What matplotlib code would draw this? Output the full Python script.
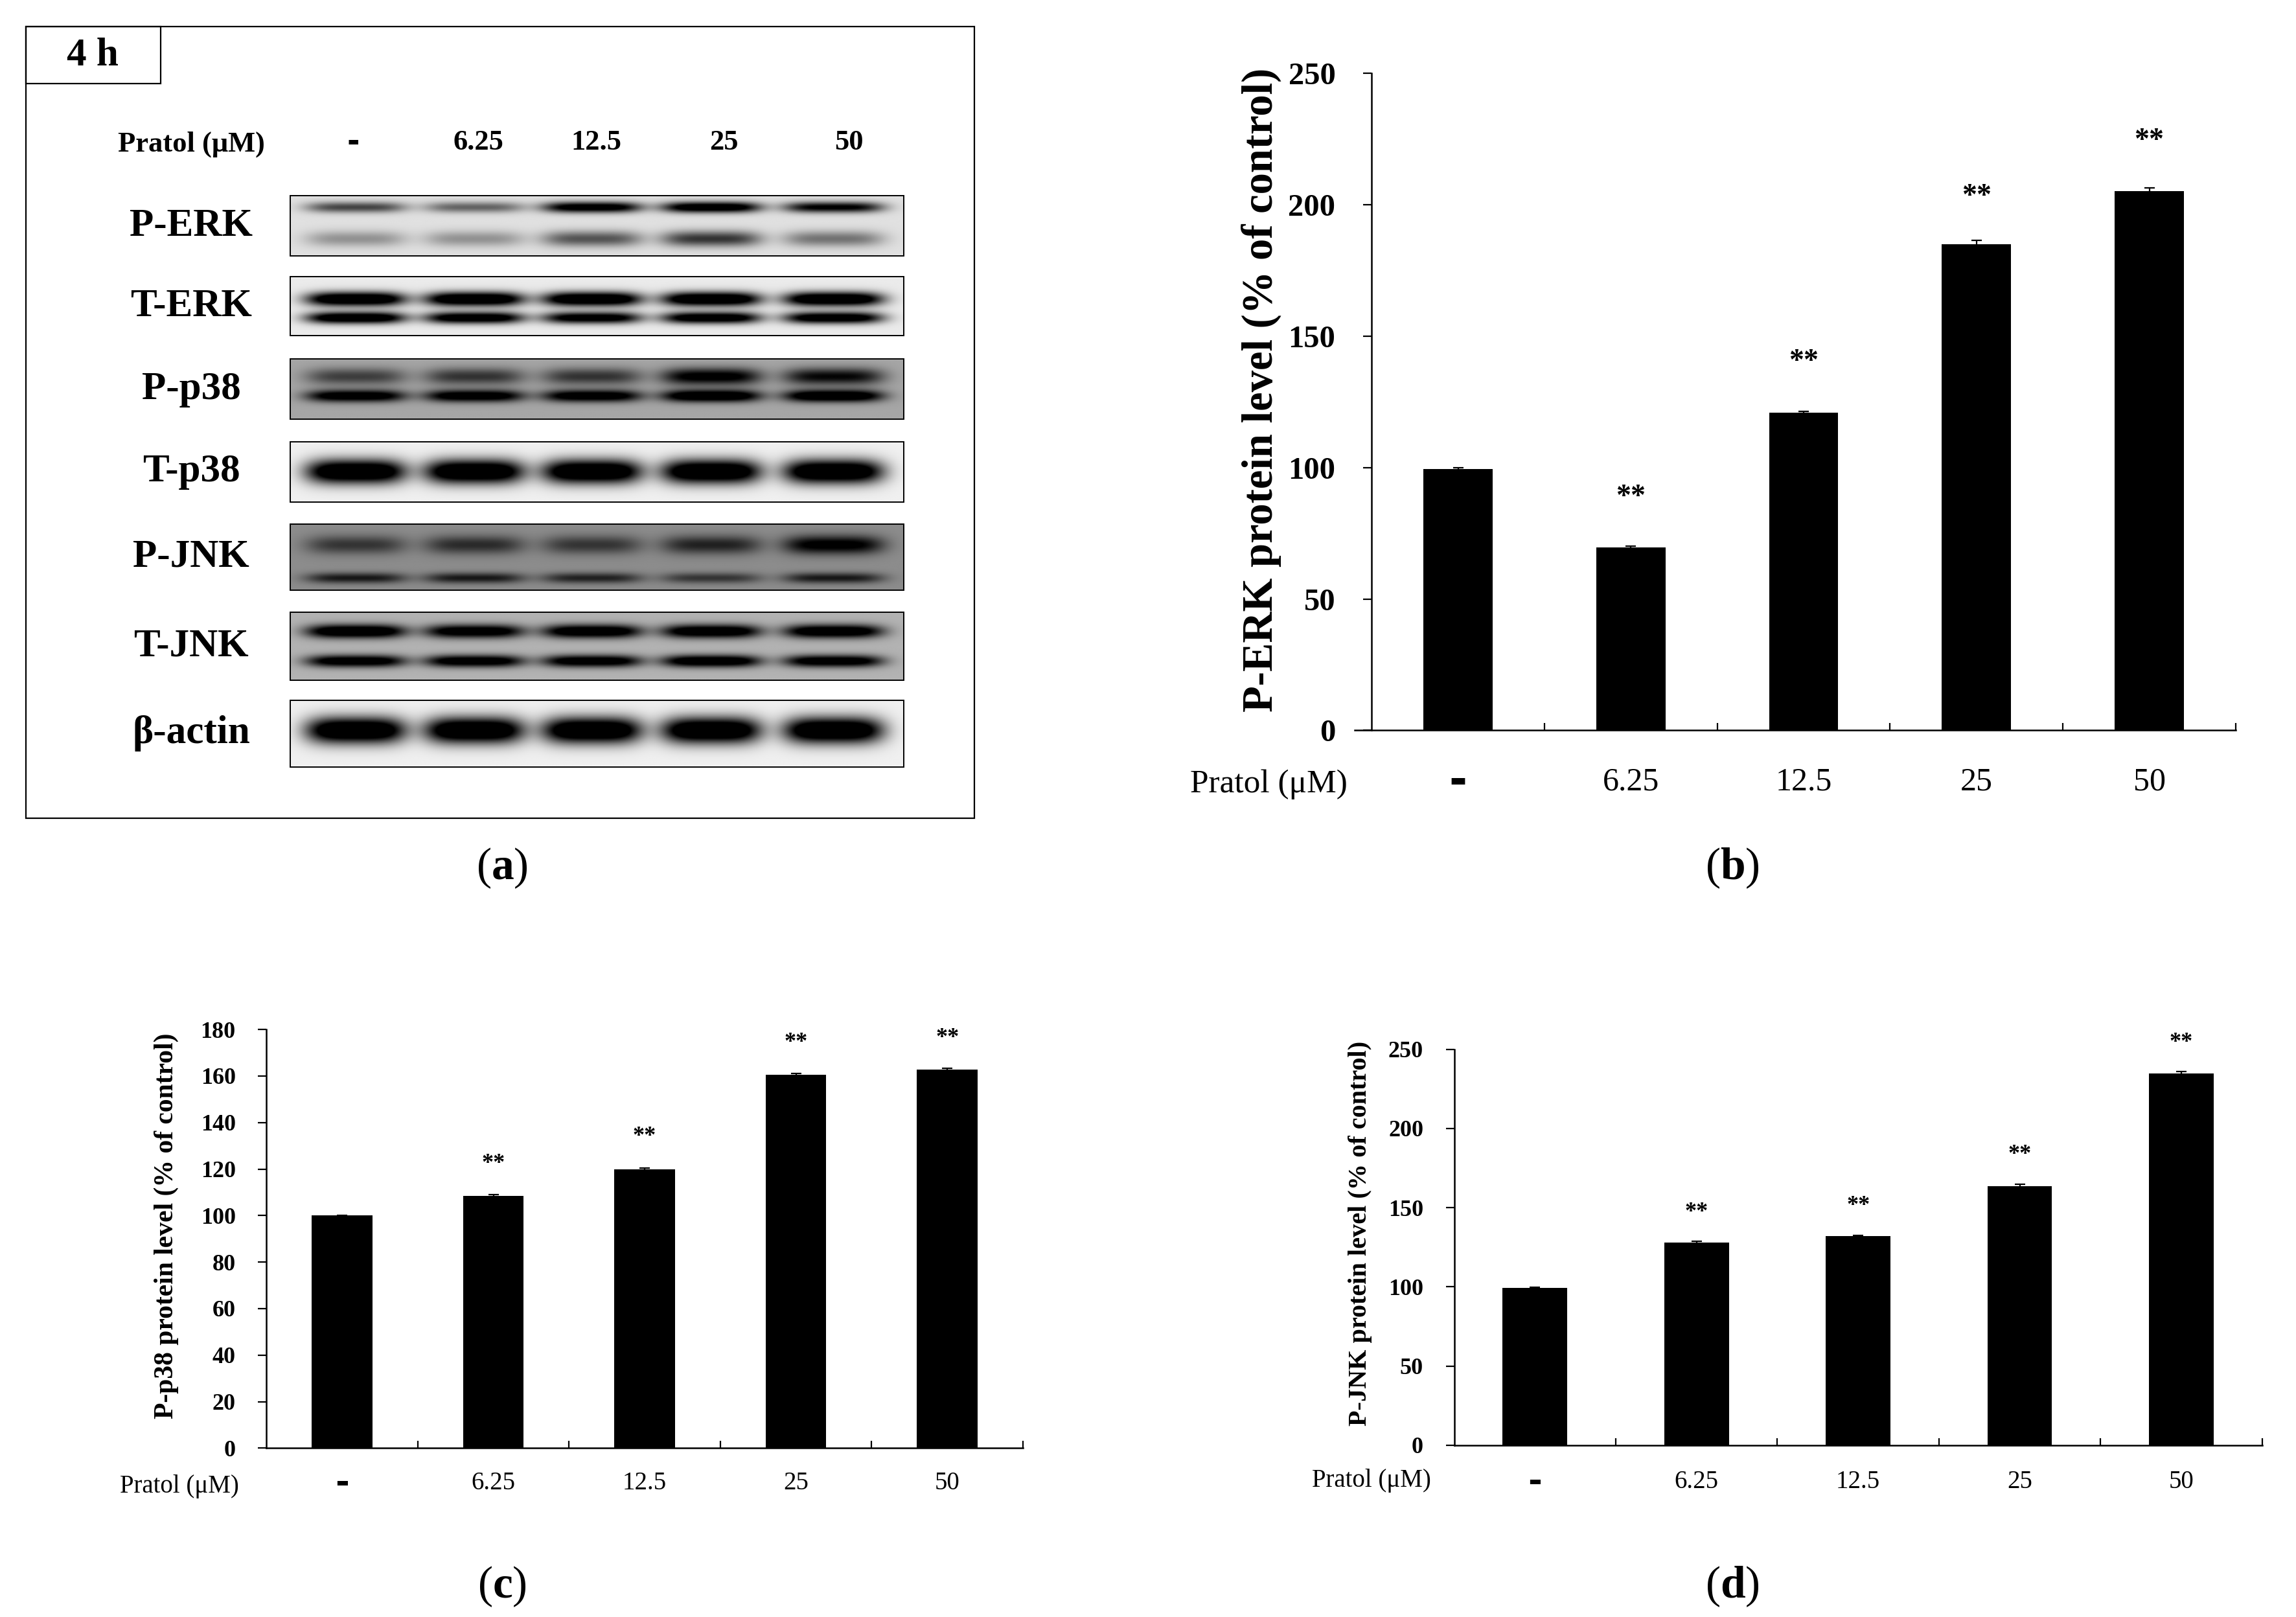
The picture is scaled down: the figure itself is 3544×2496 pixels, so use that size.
import matplotlib
matplotlib.use("Agg")
import matplotlib.pyplot as plt
import numpy as np
from matplotlib.patches import Rectangle

plt.rcParams["font.family"] = ["Liberation Serif", "DejaVu Serif"]
plt.rcParams["mathtext.fontset"] = "custom"
plt.rcParams["mathtext.rm"] = "Liberation Serif"
plt.rcParams["mathtext.bf"] = "Liberation Serif:bold"

# --- data ---
doses = ["-", "6.25", "12.5", "25", "50"]

perk_mean = [99.5, 69.5, 121.0, 185.0, 205.2]
perk_err = [0.5, 0.5, 0.3, 1.5, 1.2]
perk_star = [None, 91.5, 143.0, 206.0, 227.0]

pp38_mean = [100.0, 108.5, 120.0, 160.5, 162.8]
pp38_err = [0.2, 0.5, 0.5, 0.5, 0.5]
pp38_star = [None, 125.0, 136.7, 177.0, 179.0]

pjnk_mean = [99.5, 127.8, 132.0, 163.6, 234.7]
pjnk_err = [0.4, 1.2, 0.3, 1.2, 1.5]
pjnk_star = [None, 150.8, 155.2, 187.3, 258.0]

# western blot band darkness per lane (0 = none, 1 = black)
blot_names = ["P-ERK", "T-ERK", "P-p38", "T-p38", "P-JNK", "T-JNK", "β-actin"]
perk_bands = [[0.5, 0.4, 0.85, 0.9, 0.75], [0.25, 0.25, 0.45, 0.55, 0.35]]
terk_bands = [[1.0, 1.0, 1.0, 1.0, 1.0], [0.95, 0.9, 0.85, 0.9, 0.9]]
pp38_bands = [[0.45, 0.5, 0.5, 0.8, 0.7], [0.9, 0.9, 0.9, 1.0, 1.0]]
tp38_bands = [[1.0, 1.0, 1.0, 1.0, 1.0]]
pjnk_bands = [[0.45, 0.5, 0.45, 0.55, 0.8], [0.6, 0.6, 0.55, 0.45, 0.6]]
tjnk_bands = [[1.0, 0.9, 0.95, 0.95, 0.95], [0.9, 0.9, 0.9, 0.95, 0.9]]
bactin_bands = [[1.0, 1.0, 1.0, 1.0, 1.0]]
blot_bg = [0.12, 0.08, 0.35, 0.06, 0.45, 0.3, 0.06]

# --- layout (reference pixel grid, scaled) ---
W, H = 1560.0, 1098.7
fig = plt.figure(figsize=(17.72, 12.48), dpi=200)
canvas = fig.add_axes([0, 0, 1, 1])
canvas.axis("off")
DASH_FONT = ["DejaVu Sans"]


def fig_rect(x0, y0, x1, y1):
    return [x0 / W, 1 - y1 / H, (x1 - x0) / W, (y1 - y0) / H]


# panel (a): blot
canvas.add_patch(Rectangle((17.5, 18), 644.5, 538, fill=False, lw=0.8, ec="black"))
canvas.add_patch(Rectangle((17.5, 18), 91.5, 38.6, fill=False, lw=0.8, ec="black"))
canvas.text(63, 38, "4 h", fontsize=22, fontweight="bold", ha="center", va="center")

lane_x = [241.5, 322, 402, 483, 566]
label_x = [240, 325, 405, 492, 577]
strip_x0, strip_x1 = 197, 614
canvas.text(130, 98, "Pratol (μM)", fontsize=16, fontweight="bold", ha="center", va="center")
for lx, d in zip(label_x, doses):
    if d == "-":
        canvas.text(lx, 97, d, fontsize=17, fontweight="bold", family=DASH_FONT,
                    ha="center", va="center")
    else:
        canvas.text(lx, 97, d, fontsize=16, fontweight="bold", ha="center", va="center")

strip_tops = [133, 188, 244, 300, 356, 416, 476]
strip_bots = [174, 228, 285, 341, 401, 462, 521]
band_pos = [[0.2, 0.72], [0.38, 0.7], [0.3, 0.62], [0.5], [0.32, 0.82], [0.28, 0.72], [0.45]]
band_sig = [[0.09, 0.13], [0.12, 0.1], [0.14, 0.1], [0.2], [0.14, 0.08], [0.1, 0.09], [0.2]]
all_bands = [perk_bands, terk_bands, pp38_bands, tp38_bands, pjnk_bands, tjnk_bands, bactin_bands]

xs = np.linspace(strip_x0, strip_x1, 840)
for name, bands, pos, sig, bg, top, bot in zip(blot_names, all_bands, band_pos, band_sig,
                                                blot_bg, strip_tops, strip_bots):
    ys = np.linspace(0, 1, int((bot - top) * 4))
    X, Y = np.meshgrid(xs, ys)
    dark = np.zeros_like(X)
    for inten, yc, sg in zip(bands, pos, sig):
        for lx, val in zip(lane_x, inten):
            dark += val * np.exp(-(np.abs(X - lx) / 34) ** 4) * np.exp(-((Y - yc) / sg) ** 2)
    dark = np.clip(1.4 * dark, 0, 1)
    shade = bg + (1 - bg) * dark
    canvas.imshow(1 - shade, cmap="gray", vmin=0, vmax=1, aspect="auto",
                  extent=(strip_x0, strip_x1, bot, top), interpolation="bilinear", zorder=1)
    canvas.add_patch(Rectangle((strip_x0, top), strip_x1 - strip_x0, bot - top,
                               fill=False, lw=0.7, ec="black", zorder=2))
    canvas.text(130, (top + bot) / 2, name, fontsize=22, fontweight="bold", ha="center", va="center")

canvas.set_xlim(0, W)
canvas.set_ylim(H, 0)

# panel labels
for px, py, letter in [(341, 590, "a"), (1177, 590, "b"), (341, 1078, "c"), (1177, 1078, "d")]:
    canvas.text(px, py, "($\\mathbf{%s}$)" % letter, fontsize=25, ha="center", va="center")


def bar_panel(x0, x1, ytop, ybot, xmin, ymax, ystep, means, errs, stars, ylabel, st):
    unit = (x1 - x0) / 5.0
    left = x0 - (-0.5 - xmin) * unit
    ax = fig.add_axes(fig_rect(left, ytop, x1, ybot))
    pos = np.arange(len(means))
    ax.bar(pos, means, width=0.4, color="black", lw=0, zorder=2)
    ax.errorbar(pos, means, yerr=errs, fmt="none", ecolor="black", elinewidth=0.8,
                capsize=3, capthick=0.8, zorder=3)
    ax.set_xlim(xmin, 4.5)
    ax.set_ylim(0, ymax)
    for s in ["top", "right"]:
        ax.spines[s].set_visible(False)
    for s in ["left", "bottom"]:
        ax.spines[s].set_linewidth(0.9)
    ax.spines["left"].set_position(("data", -0.5))
    ax.set_yticks(np.arange(0, ymax + 1, ystep))
    ax.tick_params(axis="y", direction="out", length=4.6, width=0.8, pad=st["ypad"],
                   labelsize=st["ytick"])
    for lab in ax.get_yticklabels():
        lab.set_fontweight("bold")
    ax.set_xticks(np.arange(0.5, 5, 1.0))
    ax.set_xticklabels([])
    ax.tick_params(axis="x", direction="in", length=4, width=0.8)
    for i, d in enumerate(doses):
        if d == "-":
            ax.annotate(d, (i, 0), xytext=(0, -st["xoff"]), textcoords="offset points",
                        ha="center", va="center", fontsize=st["xtick"] * 1.35,
                        fontweight="bold", family=DASH_FONT, annotation_clip=False)
        else:
            ax.annotate(d, (i, 0), xytext=(0, -st["xoff"]), textcoords="offset points",
                        ha="center", va="center", fontsize=st["xtick"], annotation_clip=False)
    for i, sy in enumerate(stars):
        if sy is None:
            continue
        ax.annotate("**", (i, sy), xytext=(0, -0.5 * st["star"]), textcoords="offset points",
                    ha="center", va="baseline", fontsize=st["star"], fontweight="bold",
                    annotation_clip=False)
    fig.text(st["px"] / W, 1 - st["py"] / H, "Pratol (μM)", fontsize=st["pratol"],
             ha="center", va="center")
    fig.text(st["lx"] / W, 1 - st["ly"] / H, ylabel, fontsize=st["ylab"], fontweight="bold",
             rotation=90, ha="center", va="center")
    return ax


bar_panel(932, 1519, 49.8, 496.3, -0.6, 250, 50, perk_mean, perk_err, perk_star,
          "P-ERK protein level (% of control)",
          dict(ytick=17.5, ypad=15.5, xtick=18, xoff=28.6, star=16.5, pratol=18.5,
               px=862, py=533, ylab=24, lx=857, ly=265))
bar_panel(181, 695, 699.5, 984, -0.5, 180, 20, pp38_mean, pp38_err, pp38_star,
          "P-p38 protein level (% of control)",
          dict(ytick=13, ypad=12.5, xtick=14, xoff=19.6, star=13, pratol=14,
               px=122, py=1010, ylab=15, lx=113, ly=833))
bar_panel(988, 1537, 713, 982, -0.5, 250, 50, pjnk_mean, pjnk_err, pjnk_star,
          "P-JNK protein level (% of control)",
          dict(ytick=13, ypad=12.5, xtick=14, xoff=20.5, star=13, pratol=14,
               px=932, py=1006, ylab=14.5, lx=924, ly=838))

fig.savefig("out.png", dpi=200, facecolor="white")
